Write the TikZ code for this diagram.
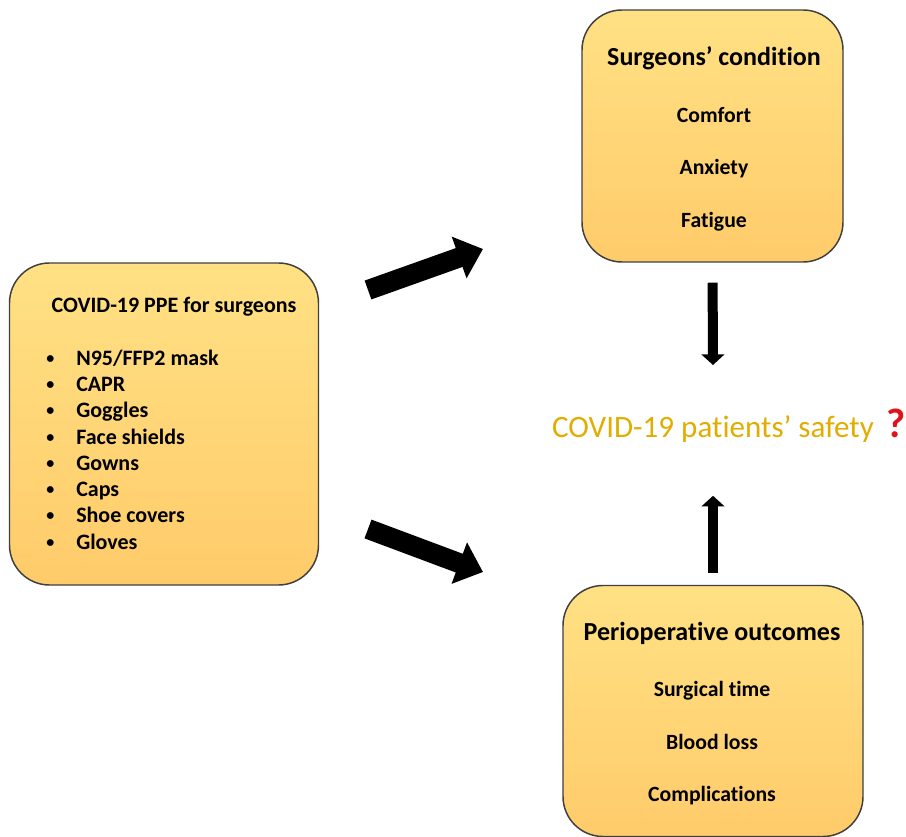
\documentclass[tikz,border=0pt]{standalone}
\usepackage{fontspec}
\setmainfont{Carlito}[Ligatures=NoCommon]
\usetikzlibrary{arrows.meta,positioning}
\definecolor{boxtop}{HTML}{FFE184}
\definecolor{boxbottom}{HTML}{FFCB6A}
\definecolor{boxline}{HTML}{3F3F3F}
\definecolor{safegold}{HTML}{E0AD00}
\definecolor{qred}{HTML}{E2121C}

\begin{document}
\begin{tikzpicture}[x=0.75pt, y=-0.75pt,
    panel/.style={draw=boxline, line width=1.1pt, rounded corners=30pt, top color=boxtop, bottom color=boxbottom, inner sep=0pt},
    head/.style={font=\bfseries\fontsize{19.5}{23}\selectfont, inner sep=0pt, anchor=mid},
    item/.style={font=\bfseries\fontsize{16.3}{20}\selectfont, inner sep=0pt, anchor=mid},
    ppeitem/.style={font=\bfseries\fontsize{16.5}{20}\selectfont, inner sep=0pt, anchor=mid west},
    fatarrow/.style={line width=15pt, -{Triangle[length=19pt, width=32pt]}},
    slimarrow/.style={line width=7.5pt, -{Triangle[length=8pt, width=17pt]}}
]
\useasboundingbox (0,0) rectangle (906,837);

\node[panel, minimum width=231.75pt, minimum height=241.5pt] (ppe) at (164,424) {};
\node[panel, minimum width=195.75pt, minimum height=189pt] (cond) at (712.5,136) {};
\node[panel, minimum width=225pt, minimum height=188.25pt] (outc) at (713,711) {};

\node[ppeitem, anchor=mid] (ppehead) at (174,309) {COVID-19 PPE for surgeons};
\foreach \name [count=\i from 0] in {N95/FFP2 mask, CAPR, Goggles, Face shields, Gowns, Caps, Shoe covers, Gloves} {
  \node[ppeitem, font=\bfseries\fontsize{12}{14}\selectfont] (bul\i) at (46,360+26.3*\i) {•};
  \node[ppeitem] (ppe\i) at (76,362+26.3*\i) {\name};
}

\node[head] (condhead) at (714,62) {Surgeons’ condition};
\node[item] (comfort) at (714,119) {Comfort};
\node[item] (anxiety) at (714,171) {Anxiety};
\node[item] (fatigue) at (714,224) {Fatigue};

\node[head] (outchead) at (712,637) {Perioperative outcomes};
\node[item] (surgtime) at (712,693) {Surgical time};
\node[item] (blood) at (712,746) {Blood loss};
\node[item] (compl) at (712,798) {Complications};

\node[font=\fontsize{23.3}{27}\selectfont, text=safegold, inner sep=0pt, anchor=mid] (safety) at (713,434) {COVID-19 patients’ safety};
\node[font=\bfseries\fontsize{31}{34}\selectfont, text=qred, inner sep=0pt, anchor=mid] (qmark) at (896,434) {?};

\coordinate (up1) at (368,290);
\coordinate (up2) at (483,249);
\coordinate (dn1) at (368,529);
\coordinate (dn2) at (483,572);
\draw[fatarrow] (up1) -- (up2);
\draw[fatarrow] (dn1) -- (dn2);

\draw[slimarrow, shorten <=15pt] (cond.south) -- ([yshift=37.5pt]safety.north);
\draw[slimarrow, shorten <=9pt] (outc.north) -- ([yshift=-40pt]safety.south);

\end{tikzpicture}
\end{document}
